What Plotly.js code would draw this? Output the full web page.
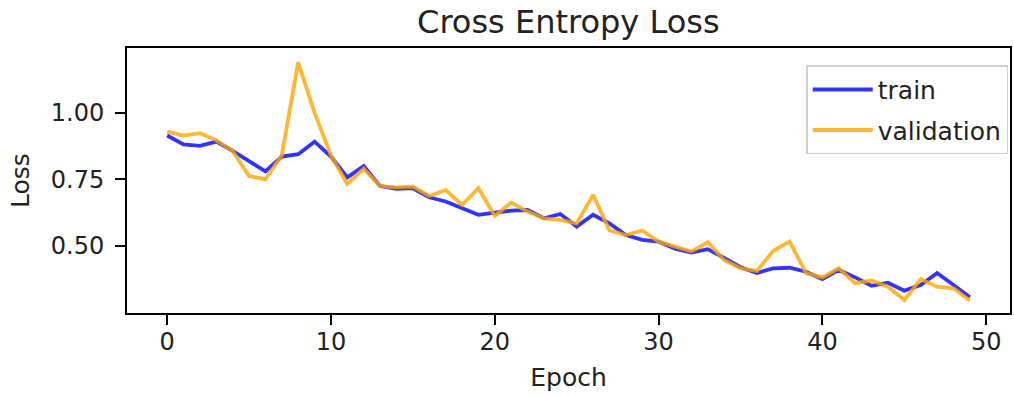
<!DOCTYPE html>
<html>
<head>
<meta charset="utf-8">
<script src="https://cdn.plot.ly/plotly-3.0.1.min.js"></script>
<style>html,body{margin:0;padding:0;background:#fff;}#chart{width:1014px;height:397px;}</style>
</head>
<body>
<div id="chart"></div>
<script>
const epochs = Array.from({length: 50}, (_, i) => i);
const trainLoss = [0.915, 0.882, 0.876, 0.892, 0.857, 0.817, 0.780, 0.836, 0.845, 0.892,
                   0.836, 0.758, 0.800, 0.725, 0.715, 0.717, 0.683, 0.667, 0.642, 0.617,
                   0.625, 0.633, 0.635, 0.604, 0.620, 0.573, 0.617, 0.585, 0.541, 0.523,
                   0.516, 0.490, 0.475, 0.488, 0.455, 0.420, 0.398, 0.416, 0.418, 0.403,
                   0.375, 0.410, 0.382, 0.350, 0.362, 0.332, 0.353, 0.398, 0.353, 0.307];
const valLoss = [0.930, 0.915, 0.924, 0.897, 0.857, 0.763, 0.750, 0.842, 1.190, 1.000,
                 0.840, 0.733, 0.790, 0.725, 0.720, 0.723, 0.688, 0.710, 0.654, 0.717,
                 0.613, 0.663, 0.629, 0.604, 0.598, 0.585, 0.692, 0.558, 0.541, 0.558,
                 0.516, 0.497, 0.479, 0.514, 0.447, 0.416, 0.406, 0.482, 0.516, 0.398,
                 0.382, 0.416, 0.360, 0.370, 0.347, 0.297, 0.375, 0.347, 0.341, 0.295];
const seriesNames = ['train', 'validation'];
const yTickVals = [0.50, 0.75, 1.00];
const yTickText = ['0.50', '0.75', '1.00'];
const xTickVals = [0, 10, 20, 30, 40, 50];

const font = 'DejaVu Sans, Liberation Sans, sans-serif';
const traces = [
  {x: epochs, y: trainLoss, name: seriesNames[0], legendgroup: 'g1', mode: 'lines', type: 'scatter',
   line: {color: 'rgba(0,0,255,0.8)', width: 3.8}},
  {x: epochs, y: valLoss, name: seriesNames[1], legendgroup: 'g2', mode: 'lines', type: 'scatter',
   line: {color: 'rgba(255,165,0,0.8)', width: 3.8}}
];
const axisCommon = {
  showgrid: false, zeroline: false, showline: true, mirror: true,
  linecolor: '#000', linewidth: 2, ticks: 'outside', ticklen: 10, tickwidth: 2,
  tickcolor: '#000', tickfont: {family: font, size: 24, color: '#222'}
};
const layout = {
  width: 1014, height: 397,
  margin: {l: 127, r: 4, t: 48, b: 84},
  paper_bgcolor: '#fff', plot_bgcolor: '#fff',
  font: {family: font, color: '#222'},
  title: {text: 'Cross Entropy Loss', font: {family: font, size: 32, color: '#222'},
          x: 0.5605, xanchor: 'center', y: 0.945, yanchor: 'middle'},
  xaxis: Object.assign({}, axisCommon, {
    range: [-2.45, 51.45], tickvals: xTickVals, ticklabelstandoff: -4,
    title: {text: 'Epoch', font: {family: font, size: 25, color: '#222'}, standoff: 14}
  }),
  yaxis: Object.assign({}, axisCommon, {
    range: [0.248, 1.244], tickvals: yTickVals, ticktext: yTickText, ticklabelstandoff: 6,
    title: {text: 'Loss', font: {family: font, size: 25, color: '#222'}, standoff: 14}
  }),
  legend: {x: 0.998, xanchor: 'right', y: 0.935, yanchor: 'top',
           bgcolor: 'rgba(255,255,255,0.8)', bordercolor: '#d0d0d0', borderwidth: 1.5,
           itemwidth: 60, tracegroupgap: 5,
           font: {family: font, size: 25, color: '#222'}},
  showlegend: true
};
Plotly.newPlot('chart', traces, layout, {displayModeBar: false, staticPlot: true});
</script>
</body>
</html>
